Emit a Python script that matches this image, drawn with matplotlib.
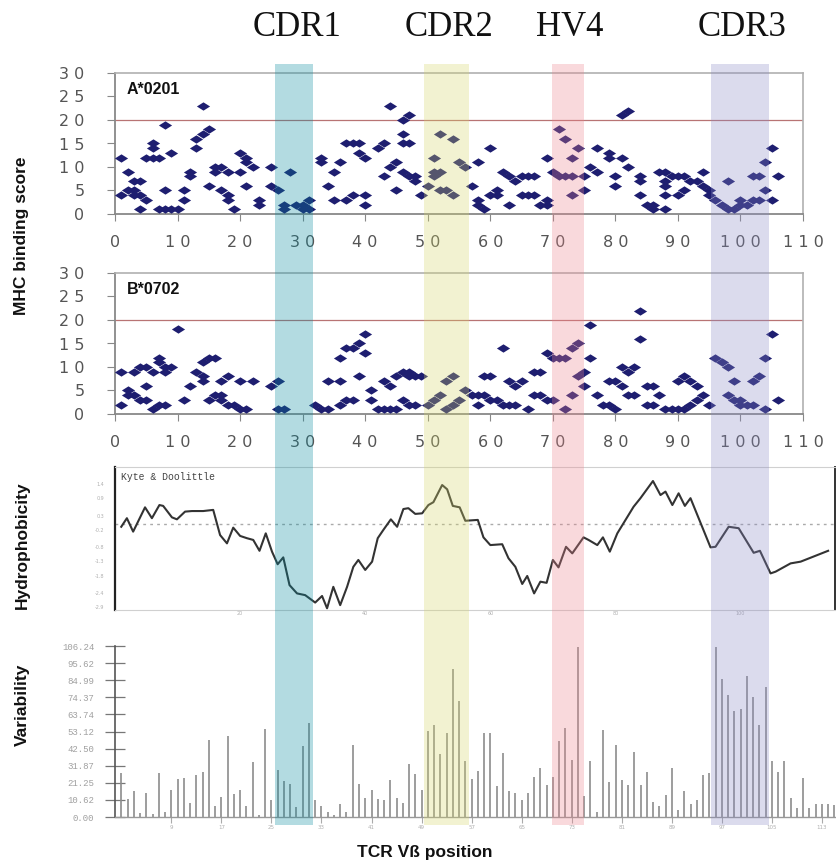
import matplotlib
matplotlib.use("Agg")
import matplotlib.pyplot as plt
import numpy as np

# ---------------- data ----------------
regions = ["CDR1", "CDR2", "HV4", "CDR3"]
region_start = [25.6, 49.4, 69.8, 95.2]
region_end = [31.7, 56.6, 74.9, 104.6]
region_colors = ["#058a9e", "#d7d769", "#ee848e", "#8a8ac6"]

a0201_pos = [1, 1, 2, 2, 3, 3, 3, 4, 4, 4, 5, 5, 6, 6, 6, 7, 7, 8, 8, 8, 9, 9, 10, 11, 11,
             12, 12, 13, 13, 14, 14, 15, 15, 16, 16, 17, 17, 18, 18, 18, 19, 20, 20, 21, 21, 21,
             22, 23, 23, 25, 25, 26, 27, 27, 28, 29, 30, 30, 31, 31, 33, 33, 34, 35, 36, 35, 37,
             38, 37, 38, 39, 39, 40, 40, 40, 42, 43, 43, 44, 45, 44, 45, 46, 46, 46, 47, 46, 47,
             49, 48, 47, 48, 50, 51, 51, 52, 51, 52, 53, 54, 52, 54, 55, 56, 57, 58, 58, 59, 58,
             60, 60, 61, 61, 62, 63, 63, 64, 65, 66, 65, 66, 67, 68, 69, 69, 67, 69, 71, 72, 73,
             74, 70, 71, 72, 73, 75, 73, 75, 76, 77, 77, 79, 79, 81, 80, 80, 81, 82, 82, 84, 84,
             84, 85, 86, 86, 87, 88, 88, 88, 88, 88, 89, 90, 91, 90, 91, 92, 93, 94, 94, 95, 95,
             96, 97, 98, 98, 99, 100, 100, 101, 102, 103, 102, 103, 104, 105, 106, 104, 105]
a0201_score = [12, 4, 9, 5, 5, 4, 7, 7, 4, 1, 3, 12, 12, 15, 14, 12, 1, 5, 19, 1, 13, 1, 1, 5, 3,
               9, 8, 14, 16, 17, 23, 18, 6, 10, 9, 10, 5, 9, 4, 3, 1, 9, 13, 12, 11, 6,
               10, 3, 2, 10, 6, 5, 1, 2, 9, 2, 2, 1, 3, 1, 12, 11, 6, 9, 11, 3, 3,
               4, 15, 15, 15, 13, 12, 4, 2, 14, 15, 8, 10, 11, 23, 5, 17, 15, 20, 21, 9, 8,
               4, 7, 15, 8, 6, 8, 9, 9, 12, 5, 5, 4, 17, 16, 11, 10, 6, 3, 2, 1, 11,
               14, 4, 5, 4, 9, 8, 2, 7, 8, 8, 4, 4, 4, 2, 2, 3, 8, 12, 18, 16, 12,
               14, 9, 8, 8, 8, 8, 4, 5, 10, 9, 14, 13, 12, 12, 8, 6, 21, 22, 10, 8, 7,
               4, 2, 2, 1, 9, 9, 7, 6, 4, 1, 8, 8, 8, 4, 5, 7, 7, 9, 6, 5, 4,
               3, 2, 7, 1, 1, 2, 3, 2, 3, 3, 8, 8, 11, 14, 8, 5, 3]

b0702_pos = [1, 1, 2, 2, 3, 3, 4, 5, 4, 5, 6, 5, 6, 7, 7, 8, 8, 9, 7, 8, 10, 11, 12, 13, 14,
             14, 14, 15, 16, 15, 16, 17, 17, 17, 18, 18, 19, 20, 21, 20, 22, 25, 26, 26, 27, 32,
             33, 34, 36, 37, 34, 36, 36, 37, 38, 39, 40, 40, 39, 38, 41, 41, 42, 43, 44, 45, 43,
             44, 45, 46, 47, 46, 47, 47, 48, 49, 48, 50, 51, 52, 53, 54, 55, 53, 54, 56, 57, 58,
             58, 59, 60, 61, 62, 63, 64, 66, 59, 60, 62, 63, 64, 65, 67, 68, 67, 68, 69, 69, 70,
             71, 72, 73, 74, 70, 72, 73, 74, 75, 75, 76, 76, 77, 78, 79, 80, 79, 80, 81, 81, 82,
             83, 82, 83, 84, 84, 85, 86, 87, 86, 85, 88, 89, 90, 91, 92, 93, 90, 91, 92, 93, 94,
             95, 96, 97, 98, 99, 98, 99, 100, 100, 101, 102, 102, 103, 104, 105, 104, 106]
b0702_score = [9, 2, 4, 5, 4, 9, 10, 10, 3, 3, 1, 6, 9, 11, 12, 9, 10, 10, 2, 2, 18, 3, 6, 9, 8,
               7, 11, 12, 12, 3, 4, 3, 4, 7, 8, 2, 2, 1, 1, 7, 7, 6, 7, 1, 1, 2,
               1, 1, 2, 3, 7, 7, 12, 14, 14, 15, 17, 13, 8, 3, 5, 3, 1, 1, 1, 1, 7,
               6, 8, 9, 8, 3, 2, 9, 8, 8, 2, 2, 3, 4, 1, 2, 3, 7, 8, 5, 4, 2,
               4, 4, 3, 3, 2, 2, 2, 1, 8, 8, 14, 7, 6, 7, 9, 9, 4, 4, 3, 13, 12,
               12, 12, 14, 15, 3, 1, 4, 8, 9, 6, 19, 12, 4, 2, 2, 1, 7, 7, 6, 10, 9,
               10, 4, 4, 22, 16, 6, 6, 4, 2, 2, 1, 1, 1, 1, 2, 3, 7, 8, 7, 6, 4,
               2, 12, 11, 10, 7, 4, 3, 2, 3, 2, 2, 7, 8, 12, 17, 1, 3]

hydro_pos = [1.0, 1.9, 2.9, 4.8, 5.9, 7.1, 7.7, 9.1, 9.9, 11.2, 12.3, 14.1, 15.7, 16.8, 17.9,
             18.9, 20.0, 21.1, 22.1, 23.1, 24.1, 25.1, 26.0, 26.9, 27.9, 29.1, 30.4, 32.0, 33.1,
             33.9, 34.9, 36.0, 37.1, 38.1, 38.9, 40.0, 41.1, 42.0, 42.9, 44.1, 45.1, 46.1, 46.9,
             48.0, 49.1, 50.1, 50.9, 52.3, 53.1, 54.0, 55.1, 56.0, 58.0, 58.9, 60.0, 61.9, 62.9,
             64.0, 65.1, 65.9, 67.0, 68.0, 69.0, 70.0, 70.9, 72.1, 73.1, 74.9, 75.7, 77.1, 78.0,
             79.1, 80.3, 82.9, 84.0, 86.0, 87.2, 88.0, 89.1, 90.1, 91.1, 92.0, 95.2, 96.0, 98.1,
             99.7, 102.1, 103.1, 104.8, 105.6, 108.0, 109.6, 114.0]
hydro_val = [-0.09, 0.21, -0.26, 0.59, 0.21, 0.67, 0.64, 0.24, 0.17, 0.44, 0.46, 0.46, 0.50, -0.38,
             -0.67, -0.12, -0.41, -0.49, -0.55, -0.93, -0.32, -0.96, -1.40, -1.16, -2.13, -2.42,
             -2.48, -2.74, -2.51, -2.94, -2.19, -2.83, -2.19, -1.49, -1.25, -1.60, -1.31, -0.49,
             -0.20, 0.17, -0.09, 0.53, 0.56, 0.36, 0.38, 0.67, 0.77, 1.37, 1.22, 0.64, 0.59, 0.12,
             0.15, -0.46, -0.73, -0.70, -1.19, -1.49, -2.09, -1.81, -2.42, -2.01, -2.05, -1.25,
             -1.51, -0.79, -1.02, -0.46, -0.55, -0.73, -0.46, -0.96, -0.32, 0.61, 0.91, 1.51,
             1.02, 1.14, 0.67, 1.08, 0.64, 0.91, -0.81, -0.79, -0.09, -0.14, -1.00, -0.93, -1.72,
             -1.66, -1.37, -1.31, -0.93]
hydro_yticks = [-2.9, -2.4, -1.8, -1.3, -0.8, -0.2, 0.3, 0.9, 1.4]
hydro_xticks = [20, 40, 60, 80, 100]

var_pos = list(range(1, 116))
var_val = [27.4, 11.4, 16, 2.5, 15, 1.7, 27.4, 3.1, 16.6, 23.4, 24.5, 8.7, 25.9, 28, 48.1, 6.6,
           12.4, 50.6, 14.5, 16.6, 6.6, 34.2, 1, 54.8, 10.4, 29.5, 22.4, 20.3, 6.2, 44, 58.1,
           10.4, 6.6, 3.1, 1, 7.9, 3.1, 45, 20.7, 12, 16.6, 11.4, 10.4, 22.8, 12, 8.7, 33.2,
           26.6, 16.6, 53.3, 57.3, 39.4, 52.3, 91.7, 72, 34.6, 23.4, 28.4, 51.9, 51.9, 19.1,
           40, 16.2, 14.9, 10.4, 14.9, 24.9, 30.5, 19.7, 24.9, 47.1, 55.6, 35.7, 105.8, 13.1,
           34.6, 3.1, 53.9, 21.8, 44.6, 23.2, 19.7, 40.5, 20.1, 28, 9.3, 6.6, 13.5, 30.7, 4.1,
           16, 7.9, 10.4, 25.9, 27.6, 105.4, 85.5, 75.7, 66, 67.4, 87.6, 74.7, 57.1, 80.9,
           34.6, 28, 34.6, 12, 5.8, 24.5, 5.8, 8.3, 8.3, 8.3, 7.3]
var_yticks = [0.00, 10.62, 21.25, 31.87, 42.50, 53.12, 63.74, 74.37, 84.99, 95.62, 106.24]
var_xticks = [9, 17, 25, 33, 41, 49, 57, 65, 73, 81, 89, 97, 105, 113]

mhc_yticks = [0, 5, 10, 15, 20, 25, 30]
mhc_ylabels = ["0", "5", "1 0", "1 5", "2 0", "2 5", "3 0"]
mhc_xticks = [0, 10, 20, 30, 40, 50, 60, 70, 80, 90, 100, 110]
mhc_xlabels = ["0", "1 0", "2 0", "3 0", "4 0", "5 0", "6 0", "7 0", "8 0", "9 0", "1 0 0", "1 1 0"]

# ---------------- figure ----------------
W, H = 837, 863
fig = plt.figure(figsize=(W / 100, H / 100), dpi=100)


def px_axes(left, top, right, bottom, **kw):
    return fig.add_axes([left / W, 1 - bottom / H, (right - left) / W, (bottom - top) / H], **kw)


diamond = [(0, 0.63), (1, 0), (0, -0.63), (-1, 0)]
navy = "#1e1e70"


def mhc_panel(ax, pos, score, title):
    ax.set_xlim(0, 110)
    ax.set_ylim(0, 30)
    ax.axhline(20, color="#b87474", lw=0.9, zorder=1)
    ax.plot(pos, score, linestyle="none", marker=diamond, ms=9.5, color=navy, mec="none", zorder=3)
    for s in ["top", "right"]:
        ax.spines[s].set_color("#b0b0b0")
        ax.spines[s].set_linewidth(1.2)
    for s in ["left", "bottom"]:
        ax.spines[s].set_color("#888888")
        ax.spines[s].set_linewidth(1.3)
    ax.set_yticks(mhc_yticks)
    ax.set_yticklabels(mhc_ylabels)
    ax.set_xticks(mhc_xticks)
    ax.set_xticklabels(mhc_xlabels)
    ax.tick_params(axis="y", direction="out", length=6, color="#888888", pad=16,
                   labelsize=11.5, labelcolor="#555555")
    ax.tick_params(axis="x", direction="out", length=5, color="#888888", pad=10,
                   labelsize=11.5, labelcolor="#555555")
    ax.text(0.017, 0.88, title, transform=ax.transAxes, fontsize=11.5, fontweight="bold",
            family="Liberation Sans", color="#111111", va="center", ha="left")


ax1 = px_axes(115, 73, 803, 214)
mhc_panel(ax1, a0201_pos, a0201_score, "A*0201")
ax2 = px_axes(115, 273, 803, 414)
mhc_panel(ax2, b0702_pos, b0702_score, "B*0702")

# hydrophobicity
ax3 = px_axes(115, 467, 835, 610)
ax3.set_xlim(0, 115.1)
ax3.set_ylim(-3, 2)
ax3.axhline(0, color="#aaaaaa", lw=1.0, ls=(0, (2, 3)), zorder=1)
ax3.plot(hydro_pos, hydro_val, color="#333333", lw=1.5, zorder=3)
ax3.spines["top"].set_color("#d0d0d0")
ax3.spines["bottom"].set_color("#d0d0d0")
ax3.spines["left"].set_color("#222222")
ax3.spines["left"].set_linewidth(1.6)
ax3.spines["right"].set_color("#333333")
ax3.spines["right"].set_linewidth(1.4)
ax3.set_yticks(hydro_yticks)
ax3.set_yticklabels([f"{v:.1f}" for v in hydro_yticks])
ax3.set_xticks(hydro_xticks)
ax3.tick_params(axis="both", length=0, labelsize=3.5, labelcolor="#b0b0b0", pad=8)
ax3.tick_params(axis="x", pad=1)
ax3.text(0.009, 0.965, "Kyte & Doolittle", transform=ax3.transAxes, fontsize=7,
         family="Liberation Mono", color="#444444", va="top", ha="left")

# variability
ax4 = px_axes(115, 646, 837, 817)
ax4.set_xlim(0, 115.4)
ax4.set_ylim(0, 106.24)
ax4.vlines(var_pos, 0, var_val, color="#8c8c8c", lw=1.2)
for s in ["top", "right"]:
    ax4.spines[s].set_visible(False)
ax4.spines["left"].set_color("#555555")
ax4.spines["left"].set_linewidth(1.2)
ax4.spines["bottom"].set_color("#999999")
ax4.spines["bottom"].set_linewidth(1.0)
ax4.set_yticks(var_yticks)
ax4.set_yticklabels([f"{v:.2f}" for v in var_yticks])
ax4.set_xticks(var_xticks)
ax4.tick_params(axis="y", direction="inout", length=14, color="#777777", width=0.9,
                labelsize=6.5, labelcolor="#a0a0a0", pad=8)
ax4.tick_params(axis="x", direction="out", length=4, color="#aaaaaa",
                labelsize=4, labelcolor="#b0b0b0", pad=2)
for lab in ax4.get_yticklabels():
    lab.set_family("Liberation Mono")

# overlay of highlighted regions
ov = px_axes(115, 64, 837, 825)
ov.set_xlim(0, 115.4)
ov.set_ylim(0, 1)
ov.axis("off")
ov.patch.set_visible(False)
ov.set_zorder(10)
for r, s, e, c in zip(regions, region_start, region_end, region_colors):
    ov.axvspan(s, e, color=c, alpha=0.3, lw=0)
    ov.text((s + e) / 2 + 0.4, 1 + 36 / 761, r, ha="center", va="center",
            fontsize=25, family="Liberation Serif", color="#111111", clip_on=False)

# axis titles
fig.text(22 / W, 1 - 236 / H, "MHC binding score", rotation=90, ha="center", va="center",
         fontsize=12.5, fontweight="bold", family="Liberation Sans", color="#111111")
fig.text(22 / W, 1 - 545 / H, "Hydrophobicity", rotation=90, ha="center", va="center",
         fontsize=12.5, fontweight="bold", family="Liberation Sans", color="#111111")
fig.text(22 / W, 1 - 705 / H, "Variability", rotation=90, ha="center", va="center",
         fontsize=12.5, fontweight="bold", family="Liberation Sans", color="#111111")
fig.text(425 / W, 1 - 852 / H, "TCR Vß position", ha="center", va="center",
         fontsize=12.5, fontweight="bold", family="Liberation Sans", color="#111111")

fig.savefig("out.png", dpi=100)
